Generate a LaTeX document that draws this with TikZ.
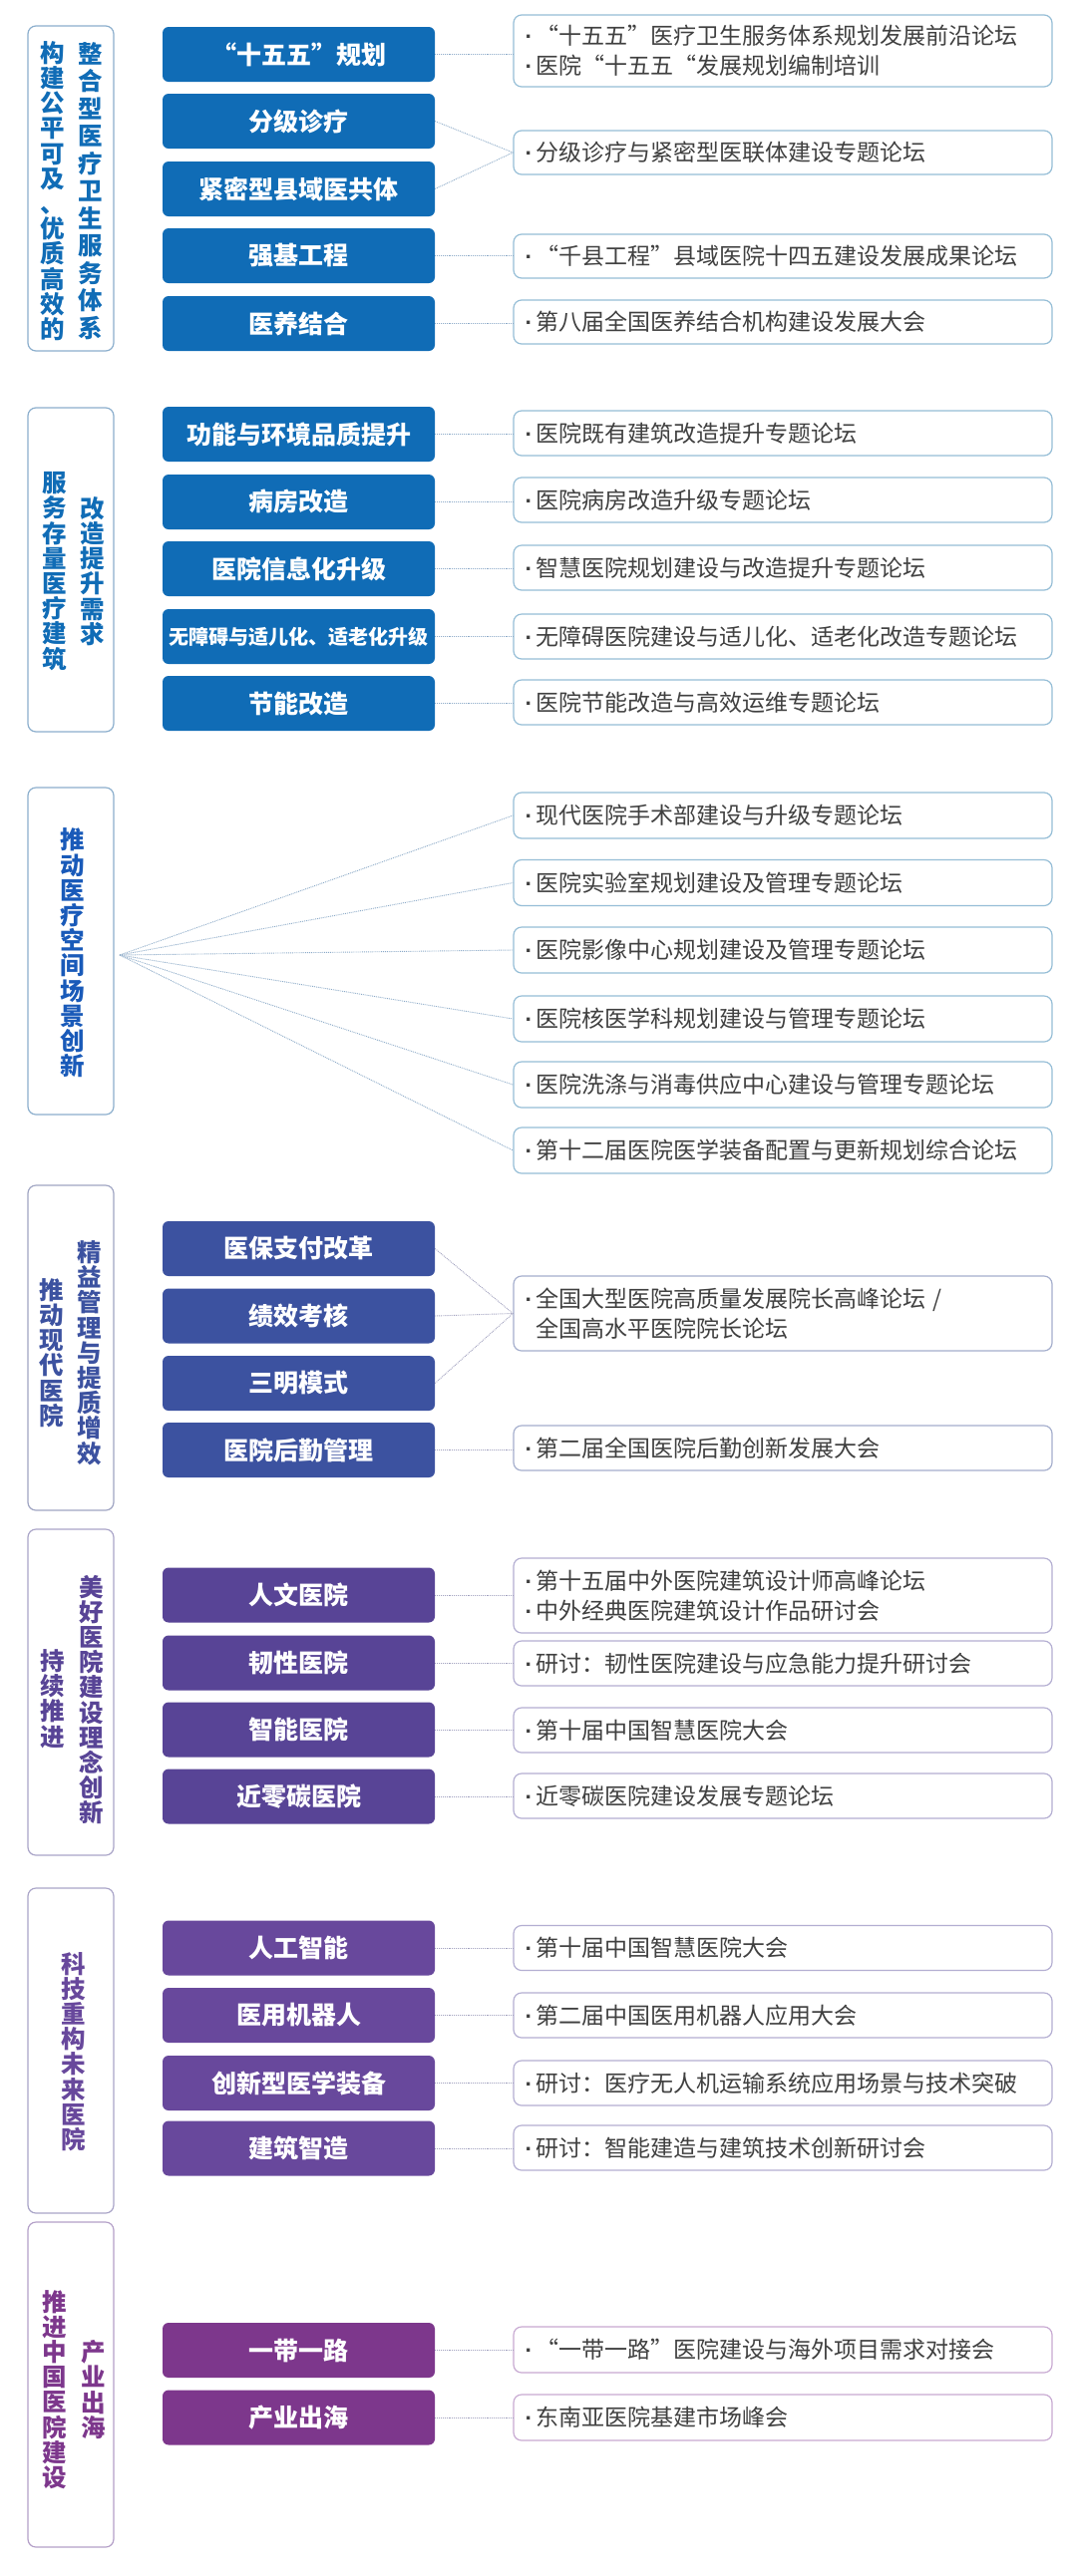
\documentclass[tikz,border=0pt]{standalone}
\usepackage{fontspec}
\setmainfont{Noto Sans CJK SC}
\newfontfamily\latf{Liberation Sans}
\usetikzlibrary{calc}
\pgfdeclarelayer{bg}
\pgfsetlayers{bg,main}
\newcommand\oq{{\addfontfeature{RawFeature=+fwid}“}}
\newcommand\cq{{\addfontfeature{RawFeature=+fwid}”}}
\newcommand\bul{{\latf\makebox[13pt][c]{\bfseries·}}}
\definecolor{cA}{RGB}{16,108,182}
\definecolor{cC}{RGB}{25,90,185}
\definecolor{cD}{RGB}{60,82,160}
\definecolor{cE}{RGB}{88,68,150}
\definecolor{cF}{RGB}{104,72,156}
\definecolor{cG}{RGB}{125,55,140}
\definecolor{lbA}{RGB}{140,175,205}
\definecolor{lbD}{RGB}{160,165,195}
\definecolor{lbE}{RGB}{170,165,200}
\definecolor{lbG}{RGB}{180,160,200}
\definecolor{rbA}{RGB}{150,190,215}
\definecolor{rbD}{RGB}{165,175,205}
\definecolor{rbE}{RGB}{180,175,210}
\definecolor{rbG}{RGB}{200,170,210}
\definecolor{lkA}{RGB}{140,170,200}
\definecolor{lkD}{RGB}{160,160,190}
\definecolor{txt}{RGB}{64,64,64}
\tikzset{
 lbox/.style={draw=#1, line width=1.2pt, rounded corners=8pt, minimum width=86pt, inner sep=0pt},
 bbox/.style={fill=#1, rounded corners=6pt, minimum width=273pt, minimum height=55pt, text=white, font=\bfseries\fontsize{25}{28}\selectfont, inner sep=0pt},
 rbox/.style={draw=#1, line width=1.2pt, rounded corners=8pt, minimum width=540pt, text width=522pt, inner xsep=9pt, inner ysep=0pt, align=left, text=txt, font=\fontsize{23}{30}\selectfont},
 vtext/.style={text=#1, font=\bfseries\fontsize{24.5}{25.2}\selectfont, align=center, inner sep=0pt},
 conn/.style={draw=#1, line width=0.9pt, densely dotted},
 fan/.style={left color=#1!62!white, right color=#1!10!white},
}
\begin{document}
\begin{tikzpicture}[x=1pt,y=-1pt]
\useasboundingbox (0,0) rectangle (1080,2584);
\fill[white] (0,0) rectangle (1080,2584);

% ---------------- Section 1
\node[lbox=lbA, minimum height=326pt] (l1) at (71,189) {};
\node[vtext=cA] (l1a) at (53,191.5) {构\\建\\公\\平\\可\\及\\、\\优\\质\\高\\效\\的};
\node[vtext=cA, font=\bfseries\fontsize{24.5}{27.5}\selectfont] (l1b) at (91,191.5) {整\\合\\型\\医\\疗\\卫\\生\\服\\务\\体\\系};
\node[bbox=cA] (b11) at (299.5,54.5) {\oq 十五五\cq 规划};
\node[bbox=cA] (b12) at (299.5,121.5) {分级诊疗};
\node[bbox=cA] (b13) at (299.5,189.5) {紧密型县域医共体};
\node[bbox=cA] (b14) at (299.5,256.5) {强基工程};
\node[bbox=cA] (b15) at (299.5,324.5) {医养结合};
\node[rbox=rbA, minimum height=72pt] (r11) at (785,51) {\bul\oq 十五五\cq 医疗卫生服务体系规划发展前沿论坛\\\bul 医院\oq 十五五\oq 发展规划编制培训};
\node[rbox=rbA, minimum height=44pt] (r12) at (785,153) {\bul 分级诊疗与紧密型医联体建设专题论坛};
\node[rbox=rbA, minimum height=44pt] (r13) at (785,257) {\bul\oq 千县工程\cq 县域医院十四五建设发展成果论坛};
\node[rbox=rbA, minimum height=44pt] (r14) at (785,323) {\bul 第八届全国医养结合机构建设发展大会};
\draw[conn=lkA] (b11.east) -- (b11.east -| r11.west);
\draw[conn=lkA] (b12.east) -- (r12.west);
\draw[conn=lkA] (b13.east) -- (r12.west);
\draw[conn=lkA] (b14.east) -- (b14.east -| r13.west);
\draw[conn=lkA] (b15.east) -- (b15.east -| r14.west);
\begin{pgfonlayer}{bg}
\fill[fan=cA] (l1.east) -- ($(b11.north west)+(0,16)$) -- ($(b15.south west)+(0,-6)$) -- cycle;
\end{pgfonlayer}

% ---------------- Section 2
\node[lbox=lbA, minimum height=325pt] (l2) at (71,571.5) {};
\node[vtext=cA] (l2a) at (55,573) {服\\务\\存\\量\\医\\疗\\建\\筑};
\node[vtext=cA] (l2b) at (93,573) {改\\造\\提\\升\\需\\求};
\node[bbox=cA] (b21) at (299.5,435.5) {功能与环境品质提升};
\node[bbox=cA] (b22) at (299.5,503.5) {病房改造};
\node[bbox=cA] (b23) at (299.5,570.5) {医院信息化升级};
\node[bbox=cA, font=\bfseries\fontsize{20}{24}\selectfont] (b24) at (299.5,638.5) {无障碍与适儿化、适老化升级};
\node[bbox=cA] (b25) at (299.5,705.5) {节能改造};
\node[rbox=rbA, minimum height=45pt] (r21) at (785,434.5) {\bul 医院既有建筑改造提升专题论坛};
\node[rbox=rbA, minimum height=45pt] (r22) at (785,501.5) {\bul 医院病房改造升级专题论坛};
\node[rbox=rbA, minimum height=45pt] (r23) at (785,569.5) {\bul 智慧医院规划建设与改造提升专题论坛};
\node[rbox=rbA, minimum height=45pt] (r24) at (785,638.5) {\bul 无障碍医院建设与适儿化、适老化改造专题论坛};
\node[rbox=rbA, minimum height=45pt] (r25) at (785,704.5) {\bul 医院节能改造与高效运维专题论坛};
\foreach \i in {1,...,5}{\draw[conn=lkA] (b2\i.east) -- (b2\i.east -| r2\i.west);}
\begin{pgfonlayer}{bg}
\fill[fan=cA] (l2.east) -- ($(b21.north west)+(0,16)$) -- ($(b25.south west)+(0,-6)$) -- cycle;
\end{pgfonlayer}

% ---------------- Section 3
\node[lbox=lbA, minimum height=328pt] (l3) at (71,954) {};
\node[vtext=cC] (l3a) at (73,956) {推\\动\\医\\疗\\空\\间\\场\\景\\创\\新};
\coordinate (f3) at (120,958);
\node[rbox=rbA, minimum height=46pt] (r31) at (785,818) {\bul 现代医院手术部建设与升级专题论坛};
\node[rbox=rbA, minimum height=46pt] (r32) at (785,885.5) {\bul 医院实验室规划建设及管理专题论坛};
\node[rbox=rbA, minimum height=46pt] (r33) at (785,953) {\bul 医院影像中心规划建设及管理专题论坛};
\node[rbox=rbA, minimum height=46pt] (r34) at (785,1022) {\bul 医院核医学科规划建设与管理专题论坛};
\node[rbox=rbA, minimum height=46pt] (r35) at (785,1088) {\bul 医院洗涤与消毒供应中心建设与管理专题论坛};
\node[rbox=rbA, minimum height=46pt] (r36) at (785,1154) {\bul 第十二届医院医学装备配置与更新规划综合论坛};
\foreach \i in {1,...,6}{\draw[conn=lkA] (f3) -- (r3\i.west);}

% ---------------- Section 4
\node[lbox=lbD, minimum height=326pt] (l4) at (71,1352) {};
\node[vtext=cD] (l4a) at (52,1357) {推\\动\\现\\代\\医\\院};
\node[vtext=cD] (l4b) at (90,1357) {精\\益\\管\\理\\与\\提\\质\\增\\效};
\node[bbox=cD] (b41) at (299.5,1252.5) {医保支付改革};
\node[bbox=cD] (b42) at (299.5,1320) {绩效考核};
\node[bbox=cD] (b43) at (299.5,1387.5) {三明模式};
\node[bbox=cD] (b44) at (299.5,1454.5) {医院后勤管理};
\node[rbox=rbD, minimum height=75pt] (r41) at (785,1317.5) {\bul 全国大型医院高质量发展院长高峰论坛 /\\\hspace*{13pt}全国高水平医院院长论坛};
\node[rbox=rbD, minimum height=45pt] (r42) at (785,1452.5) {\bul 第二届全国医院后勤创新发展大会};
\draw[conn=lkD] (b41.east) -- (r41.west);
\draw[conn=lkD] (b42.east) -- (r41.west);
\draw[conn=lkD] (b43.east) -- (r41.west);
\draw[conn=lkD] (b44.east) -- (b44.east -| r42.west);
\begin{pgfonlayer}{bg}
\fill[fan=cD] (l4.east) -- ($(b41.north west)+(0,16)$) -- ($(b44.south west)+(0,-6)$) -- cycle;
\end{pgfonlayer}

% ---------------- Section 5
\node[lbox=lbE, minimum height=327pt] (l5) at (71,1697.5) {};
\node[vtext=cE] (l5a) at (53,1704) {持\\续\\推\\进};
\node[vtext=cE] (l5b) at (92,1705) {美\\好\\医\\院\\建\\设\\理\\念\\创\\新};
\node[bbox=cE] (b51) at (299.5,1600) {人文医院};
\node[bbox=cE] (b52) at (299.5,1668) {韧性医院};
\node[bbox=cE] (b53) at (299.5,1735) {智能医院};
\node[bbox=cE] (b54) at (299.5,1802) {近零碳医院};
\node[rbox=rbE, minimum height=75pt] (r51) at (785,1600.5) {\bul 第十五届中外医院建筑设计师高峰论坛\\\bul 中外经典医院建筑设计作品研讨会};
\node[rbox=rbE, minimum height=45pt] (r52) at (785,1668.5) {\bul 研讨：韧性医院建设与应急能力提升研讨会};
\node[rbox=rbE, minimum height=45pt] (r53) at (785,1735.5) {\bul 第十届中国智慧医院大会};
\node[rbox=rbE, minimum height=45pt] (r54) at (785,1801.5) {\bul 近零碳医院建设发展专题论坛};
\foreach \i in {1,...,4}{\draw[conn=lkD] (b5\i.east) -- (b5\i.east -| r5\i.west);}
\begin{pgfonlayer}{bg}
\fill[fan=cE] (l5.east) -- ($(b51.north west)+(0,16)$) -- ($(b54.south west)+(0,-6)$) -- cycle;
\end{pgfonlayer}

% ---------------- Section 6
\node[lbox=lbE, minimum height=326pt] (l6) at (71,2057) {};
\node[vtext=cF] (l6a) at (74,2058) {科\\技\\重\\构\\未\\来\\医\\院};
\node[bbox=cF] (b61) at (299.5,1954) {人工智能};
\node[bbox=cF] (b62) at (299.5,2021.5) {医用机器人};
\node[bbox=cF] (b63) at (299.5,2089.5) {创新型医学装备};
\node[bbox=cF] (b64) at (299.5,2155) {建筑智造};
\node[rbox=rbE, minimum height=45pt] (r61) at (785,1954) {\bul 第十届中国智慧医院大会};
\node[rbox=rbE, minimum height=45pt] (r62) at (785,2021.5) {\bul 第二届中国医用机器人应用大会};
\node[rbox=rbE, minimum height=45pt] (r63) at (785,2089.5) {\bul 研讨：医疗无人机运输系统应用场景与技术突破};
\node[rbox=rbE, minimum height=45pt] (r64) at (785,2154.5) {\bul 研讨：智能建造与建筑技术创新研讨会};
\foreach \i in {1,...,4}{\draw[conn=lkD] (b6\i.east) -- (b6\i.east -| r6\i.west);}
\begin{pgfonlayer}{bg}
\fill[fan=cF] (l6.east) -- ($(b61.north west)+(0,16)$) -- ($(b64.south west)+(0,-6)$) -- cycle;
\end{pgfonlayer}

% ---------------- Section 7
\node[lbox=lbG, minimum height=326pt] (l7) at (71,2392) {};
\node[vtext=cG] (l7a) at (55,2397) {推\\进\\中\\国\\医\\院\\建\\设};
\node[vtext=cG] (l7b) at (94,2397) {产\\业\\出\\海};
\node[bbox=cG] (b71) at (299.5,2357.5) {一带一路};
\node[bbox=cG] (b72) at (299.5,2425) {产业出海};
\node[rbox=rbG, minimum height=46pt] (r71) at (785,2357) {\bul\oq 一带一路\cq 医院建设与海外项目需求对接会};
\node[rbox=rbG, minimum height=46pt] (r72) at (785,2425) {\bul 东南亚医院基建市场峰会};
\foreach \i in {1,2}{\draw[conn=lkD] (b7\i.east) -- (b7\i.east -| r7\i.west);}
\begin{pgfonlayer}{bg}
\fill[fan=cG] (l7.east) -- ($(b71.north west)+(0,4)$) -- ($(b72.south west)+(0,-2)$) -- cycle;
\end{pgfonlayer}
\end{tikzpicture}
\end{document}
